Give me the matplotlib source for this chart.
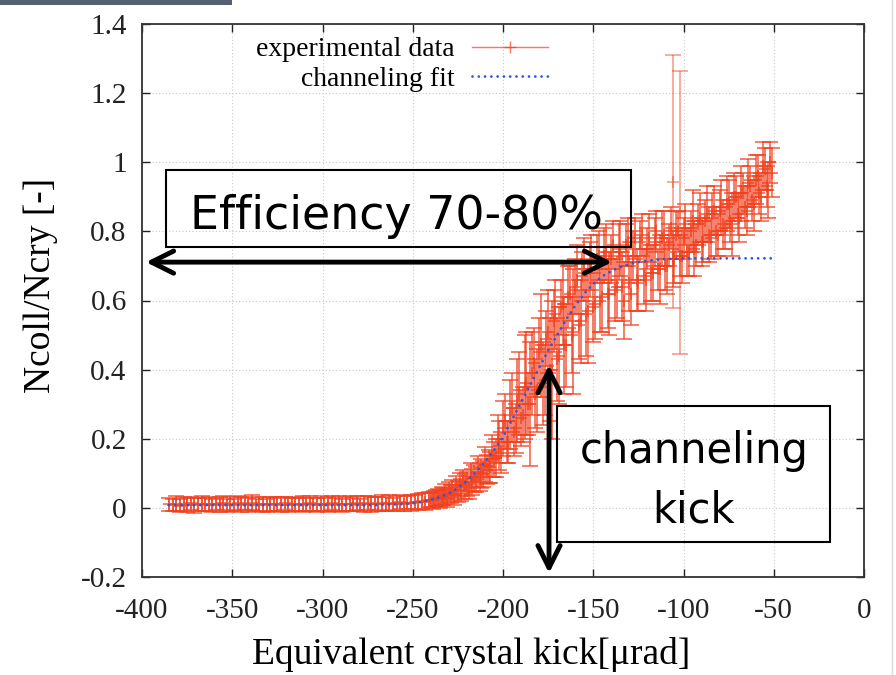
import matplotlib
matplotlib.use('Agg')
import matplotlib.pyplot as plt
from matplotlib.lines import Line2D
from matplotlib.patches import Rectangle

plt.rcParams['axes.unicode_minus'] = False
plt.rcParams['font.family'] = ['Liberation Serif', 'DejaVu Serif']

# ---------------- data ----------------
# scan 1
kick = [
    -385, -383, -381, -379, -377, -375, -373, -371, -369, -367,
    -365, -363, -361, -359, -357, -355, -353, -351, -349, -347,
    -345, -343, -341, -339, -337, -335, -333, -331, -329, -327,
    -325, -323, -321, -319, -317, -315, -313, -311, -309, -307,
    -305, -303, -301, -299, -297, -295, -293, -291, -289, -287,
    -285, -283, -281, -279, -277, -275, -273, -271, -269, -267,
    -265, -263, -261, -259, -257, -255, -253, -251, -249, -247,
    -245, -243, -241, -239, -237, -235, -233, -231, -229, -227,
    -225, -223, -221, -219, -217, -215, -213, -211, -209, -207,
    -205, -203, -201, -199, -197, -195, -193, -191, -189, -187,
    -185, -183, -181, -179, -177, -175, -173, -171, -169, -167,
    -165, -163, -161, -159, -157, -155, -153, -151, -149, -147,
    -145, -143, -141, -139, -137, -135, -133, -131, -129, -127,
    -125, -123, -121, -119, -117, -115, -113, -111, -109, -107,
    -105, -103, -101, -99, -97, -95, -93, -91, -89, -87,
    -85, -83, -81, -79, -77, -75, -73, -71, -69, -67,
    -65, -63, -61, -59, -57, -55, -53, -51,
]

ratio = [
    0.010, 0.008, 0.012, 0.006, 0.011, 0.009, 0.013, 0.007, 0.010, 0.012,
    0.009, 0.011, 0.007, 0.012, 0.010, 0.014, 0.008, 0.011, 0.009, 0.013,
    0.010, 0.012, 0.008, 0.015, 0.009, 0.011, 0.010, 0.007, 0.012, 0.010,
    0.011, 0.009, 0.013, 0.008, 0.010, 0.012, 0.009, 0.011, 0.010, 0.013,
    0.010, 0.008, 0.012, 0.011, 0.009, 0.013, 0.010, 0.012, 0.008, 0.011,
    0.012, 0.010, 0.014, 0.009, 0.011, 0.013, 0.010, 0.012, 0.011, 0.014,
    0.012, 0.015, 0.011, 0.013, 0.016, 0.012, 0.015, 0.014, 0.018, 0.016,
    0.020, 0.018, 0.024, 0.022, 0.028, 0.026, 0.033, 0.030, 0.040, 0.037,
    0.048, 0.052, 0.062, 0.058, 0.075, 0.082, 0.090, 0.098, 0.110, 0.118,
    0.140, 0.200, 0.160, 0.250, 0.190, 0.290, 0.230, 0.330, 0.270, 0.360,
    0.300, 0.420, 0.340, 0.470, 0.370, 0.510, 0.400, 0.560, 0.440, 0.590,
    0.470, 0.620, 0.510, 0.660, 0.540, 0.690, 0.570, 0.710, 0.590, 0.730,
    0.610, 0.740, 0.620, 0.760, 0.640, 0.750, 0.600, 0.770, 0.620, 0.780,
    0.650, 0.790, 0.660, 0.780, 0.680, 0.800, 0.690, 0.790, 0.700, 0.810,
    0.720, 0.800, 0.730, 0.820, 0.740, 0.830, 0.760, 0.840, 0.770, 0.850,
    0.780, 0.860, 0.790, 0.870, 0.810, 0.880, 0.820, 0.900, 0.840, 0.910,
    0.860, 0.930, 0.880, 0.960, 0.900, 0.980, 0.920, 0.970,
]

ratio_err = [
    0.020, 0.018, 0.022, 0.019, 0.021, 0.020, 0.018, 0.022, 0.019, 0.021,
    0.019, 0.021, 0.020, 0.018, 0.022, 0.020, 0.019, 0.021, 0.018, 0.020,
    0.021, 0.019, 0.020, 0.022, 0.018, 0.020, 0.021, 0.019, 0.020, 0.018,
    0.020, 0.022, 0.019, 0.021, 0.018, 0.020, 0.019, 0.022, 0.020, 0.021,
    0.018, 0.020, 0.021, 0.019, 0.022, 0.020, 0.018, 0.021, 0.019, 0.020,
    0.021, 0.019, 0.020, 0.018, 0.022, 0.020, 0.021, 0.019, 0.020, 0.022,
    0.020, 0.021, 0.019, 0.022, 0.020, 0.021, 0.019, 0.022, 0.020, 0.023,
    0.022, 0.024, 0.021, 0.025, 0.023, 0.026, 0.024, 0.027, 0.025, 0.028,
    0.030, 0.032, 0.035, 0.033, 0.038, 0.036, 0.040, 0.038, 0.042, 0.045,
    0.050, 0.070, 0.060, 0.080, 0.060, 0.100, 0.070, 0.120, 0.080, 0.150,
    0.180, 0.100, 0.120, 0.150, 0.100, 0.120, 0.200, 0.100, 0.140, 0.120,
    0.120, 0.080, 0.180, 0.100, 0.120, 0.090, 0.150, 0.080, 0.100, 0.070,
    0.100, 0.080, 0.120, 0.070, 0.090, 0.080, 0.110, 0.070, 0.090, 0.060,
    0.080, 0.060, 0.090, 0.070, 0.080, 0.060, 0.100, 0.070, 0.080, 0.060,
    0.070, 0.060, 0.080, 0.060, 0.070, 0.090, 0.060, 0.070, 0.060, 0.080,
    0.060, 0.070, 0.060, 0.080, 0.060, 0.070, 0.090, 0.060, 0.070, 0.060,
    0.070, 0.060, 0.080, 0.060, 0.070, 0.060, 0.080, 0.070,
]

# scan 2 (overlapping points in the rising part)
kick2 = [
    -240, -238, -236, -234, -232, -230, -228, -226, -224, -222,
    -220, -218, -216, -214, -212, -210, -208, -206, -204, -202,
    -200, -198, -196, -194, -192, -190, -188, -186, -184, -182,
    -180, -178, -176, -174, -172, -170, -168, -166, -164, -162,
    -160, -158, -156, -154, -152, -150, -148, -146, -144, -142,
    -140, -138, -136, -134, -132, -130, -128, -126, -124, -122,
    -120, -118, -116, -114, -112, -110, -108, -106, -104, -102,
    -100, -98, -96, -94, -92, -90, -88, -86, -84, -82,
    -80, -78, -76, -74, -72, -70, -68, -66, -64, -62,
    -60, -58, -56, -54, -52,
]
ratio2 = [
    0.022, 0.026, 0.030, 0.035, 0.040, 0.046, 0.052, 0.060, 0.068, 0.076,
    0.070, 0.090, 0.085, 0.105, 0.100, 0.125, 0.120, 0.150, 0.145, 0.180,
    0.230, 0.190, 0.270, 0.220, 0.310, 0.260, 0.350, 0.300, 0.390, 0.330,
    0.450, 0.360, 0.490, 0.400, 0.540, 0.430, 0.580, 0.470, 0.610, 0.500,
    0.640, 0.530, 0.670, 0.560, 0.690, 0.580, 0.720, 0.600, 0.730, 0.620,
    0.720, 0.630, 0.740, 0.640, 0.760, 0.650, 0.730, 0.660, 0.770, 0.670,
    0.750, 0.680, 0.770, 0.690, 0.780, 0.700, 0.760, 0.720, 0.790, 0.730,
    0.780, 0.740, 0.800, 0.750, 0.820, 0.770, 0.830, 0.790, 0.850, 0.800,
    0.860, 0.820, 0.880, 0.830, 0.900, 0.850, 0.910, 0.870, 0.940, 0.890,
    0.950, 0.910, 0.990, 0.930, 1.000,
]
ratio2_err = [
    0.022, 0.024, 0.025, 0.026, 0.028, 0.028, 0.030, 0.032, 0.033, 0.035,
    0.035, 0.040, 0.038, 0.045, 0.042, 0.050, 0.048, 0.060, 0.055, 0.070,
    0.080, 0.060, 0.100, 0.070, 0.120, 0.080, 0.150, 0.090, 0.120, 0.100,
    0.100, 0.120, 0.080, 0.150, 0.090, 0.120, 0.080, 0.140, 0.090, 0.110,
    0.080, 0.100, 0.070, 0.120, 0.080, 0.100, 0.070, 0.090, 0.080, 0.100,
    0.070, 0.090, 0.080, 0.100, 0.060, 0.080, 0.070, 0.090, 0.060, 0.080,
    0.060, 0.080, 0.070, 0.060, 0.080, 0.070, 0.060, 0.080, 0.070, 0.060,
    0.060, 0.070, 0.060, 0.080, 0.060, 0.070, 0.060, 0.080, 0.060, 0.070,
    0.060, 0.070, 0.080, 0.060, 0.070, 0.060, 0.080, 0.060, 0.070, 0.060,
    0.070, 0.060, 0.070, 0.060, 0.060,
]

outlier_kick = [-106, -102]
outlier_ratio = [0.944, 0.855]
outlier_err = [0.366, 0.410]

fit_kick = [
    -385, -380, -375, -370, -365, -360, -355, -350, -345, -340,
    -335, -330, -325, -320, -315, -310, -305, -300, -295, -290,
    -285, -280, -275, -270, -265, -260, -255, -250, -245, -240,
    -235, -230, -225, -220, -215, -210, -205, -200, -195, -190,
    -185, -180, -175, -170, -165, -160, -155, -150, -145, -140,
    -135, -130, -125, -120, -115, -110, -105, -100, -95, -90,
    -85, -80, -75, -70, -65, -60, -55, -50,
]
fit_ratio = [
    0.008, 0.008, 0.008, 0.008, 0.008, 0.008, 0.008, 0.008, 0.008, 0.008,
    0.008, 0.008, 0.008, 0.008, 0.008, 0.008, 0.008, 0.008, 0.008, 0.008,
    0.008, 0.008, 0.008, 0.008, 0.009, 0.010, 0.011, 0.013, 0.017, 0.023,
    0.031, 0.042, 0.058, 0.078, 0.103, 0.133, 0.167, 0.205, 0.255, 0.305,
    0.355, 0.405, 0.455, 0.500, 0.545, 0.585, 0.620, 0.648, 0.670, 0.685,
    0.697, 0.705, 0.711, 0.715, 0.718, 0.720, 0.721, 0.722, 0.722, 0.722,
    0.722, 0.722, 0.722, 0.722, 0.722, 0.722, 0.722, 0.722,
]

x_ticks = [-400, -350, -300, -250, -200, -150, -100, -50, 0]
x_tick_labels = ['-400', '-350', '-300', '-250', '-200', '-150', '-100', '-50', '0']
y_ticks = [-0.2, 0.0, 0.2, 0.4, 0.6, 0.8, 1.0, 1.2, 1.4]
y_tick_labels = ['-0.2', '0', '0.2', '0.4', '0.6', '0.8', '1', '1.2', '1.4']
legend_labels = ['experimental data', 'channeling fit']
x_label = 'Equivalent crystal kick[\u03bcrad]'
y_label = 'Ncoll/Ncry [-]'
eff_text = 'Efficiency 70-80%'
kick_text = ['channeling', 'kick']

# ---------------- style ----------------
RED = '#f0401e'
BLUE = '#2a55e8'
W, H = 896, 675

fig = plt.figure(figsize=(W / 100, H / 100), dpi=100)
ax = fig.add_axes([142 / W, 98 / H, 722 / W, 553 / H])

eb_style = dict(fmt='+', color=RED, ecolor=RED, elinewidth=1.1, capsize=6,
                capthick=1.1, markersize=8, mew=1.1, zorder=3)
ax.errorbar(kick, ratio, yerr=ratio_err, alpha=0.85, **eb_style)
ax.errorbar(kick2, ratio2, yerr=ratio2_err, alpha=0.85, **eb_style)
ax.errorbar(outlier_kick, outlier_ratio, yerr=outlier_err, alpha=0.55, **eb_style)
ax.plot(fit_kick, fit_ratio, color=BLUE, lw=2.0, linestyle=(0, (0.01, 2.25)),
        dash_capstyle='round', zorder=4)

ax.set_xlim(-400, 0)
ax.set_ylim(-0.2, 1.4)
ax.set_xticks(x_ticks)
ax.set_xticklabels(x_tick_labels)
ax.set_yticks(y_ticks)
ax.set_yticklabels(y_tick_labels)
ax.tick_params(direction='in', length=6, width=1.0, top=True, right=True,
               labelsize=21, pad=11, colors='#222222')
ax.tick_params(axis='x', pad=15)
for s in ax.spines.values():
    s.set_linewidth(1.3)
    s.set_color('#333333')
ax.grid(True, color='#c8c8c8', linestyle=(0, (1, 2)), lw=0.8)
ax.set_axisbelow(True)

ax.set_xlabel(x_label, fontsize=27)
ax.xaxis.set_label_coords((471 - 142) / 722, -0.108)
ax.set_ylabel(y_label, fontsize=27)
ax.yaxis.set_label_coords((58 - 142) / 722, (577 - 285) / 553)

handles = [
    Line2D([], [], color=RED, marker='+', lw=1.0, markersize=9, mew=1.0, alpha=0.7),
    Line2D([], [], color=BLUE, lw=2.0, linestyle=(0, (0.01, 2.25)), dash_capstyle='round'),
]
ax.legend(handles, legend_labels, loc='upper right',
          bbox_to_anchor=(548 / W, (H - 37) / H), bbox_transform=fig.transFigure,
          frameon=False, markerfirst=False, handlelength=2.75, handletextpad=0.6,
          borderpad=0, borderaxespad=0, labelspacing=0.15,
          prop={'family': 'Liberation Serif', 'size': 20})

# ---------------- annotations ----------------
ax.add_patch(Rectangle((-386.7, 0.755), 257.7, 0.223, fill=False, ec='black',
                       lw=1.5, zorder=5, clip_on=False))
ax.text(-259.3, 0.807, eff_text, ha='center', va='baseline',
        family='DejaVu Sans', fontsize=33, zorder=6)
arrow_style = dict(arrowstyle='<->,head_length=0.8,head_width=0.4', lw=3.5,
                   color='black', shrinkA=0, shrinkB=0, mutation_scale=20)
ax.annotate('', xy=(-397.8, 0.711), xytext=(-139.6, 0.711),
            arrowprops=arrow_style, zorder=6, annotation_clip=False)
ax.annotate('', xy=(-174.5, -0.189), xytext=(-174.5, 0.413),
            arrowprops=arrow_style, zorder=6, annotation_clip=False)

ax.add_patch(Rectangle((-170.1, -0.099), 151.3, 0.394, fill=False, ec='black',
                       lw=1.5, zorder=5))
ax.text(-94.2, 0.130, kick_text[0], ha='center', va='baseline',
        family='DejaVu Sans', fontsize=30, zorder=6)
ax.text(-94.2, -0.041, kick_text[1], ha='center', va='baseline',
        family='DejaVu Sans', fontsize=30, zorder=6)

# slide-frame remnants
fig.add_artist(Rectangle((0, (H - 5) / H), 232 / W, 5 / H, transform=fig.transFigure,
                         color='#56606e', lw=0))
fig.add_artist(Line2D([892 / W, 892 / W], [0, 1], transform=fig.transFigure,
                      color='#d8d8d8', lw=1.0))

fig.savefig('out.png', dpi=100)
